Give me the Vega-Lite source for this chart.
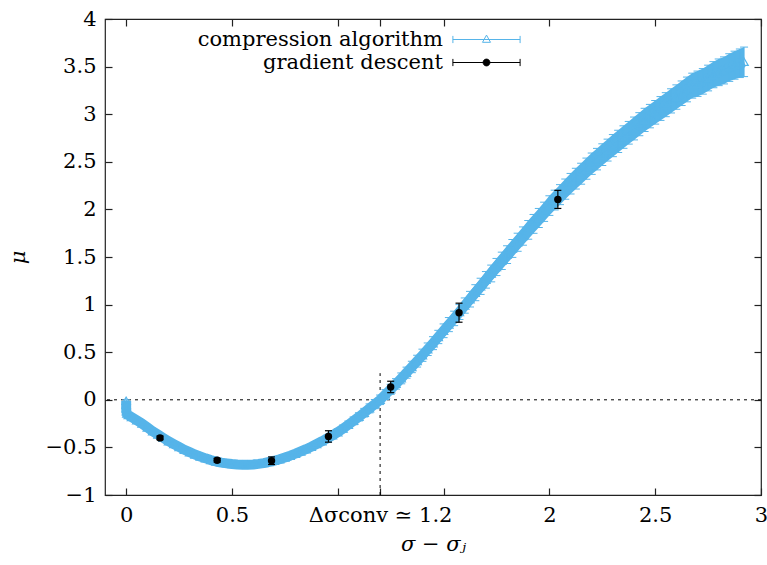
{
  "$schema": "https://vega.github.io/schema/vega-lite/v6.json",
  "width": 656,
  "height": 476,
  "autosize": {"type": "none"},
  "padding": {"left": 105, "top": 19, "right": 6, "bottom": 70},
  "background": "white",
  "config": {
    "view": {"stroke": "#222", "strokeWidth": 1.2},
    "font": "DejaVu Serif",
    "axis": {
      "grid": false, "domain": false, "tickColor": "#222", "tickWidth": 1.2,
      "tickSize": -7, "labelFont": "DejaVu Serif", "labelFontSize": 21,
      "labelColor": "black", "titleFont": "DejaVu Serif", "titleFontSize": 21,
      "titleFontWeight": "normal", "titleFontStyle": "italic", "titleColor": "black",
      "labelOverlap": false, "labelFlush": false
    },
    "legend": {
      "orient": "none", "legendX": 371, "legendY": 10, "title": null, "padding": 0,
      "rowPadding": 1, "labelAlign": "right", "labelOffset": -54,
      "labelFont": "DejaVu Serif", "labelFontSize": 21, "labelColor": "black",
      "symbolSize": 64, "symbolStrokeWidth": 1, "symbolOpacity": 1, "labelLimit": 400
    }
  },
  "datasets": {
    "compression": [
      {"x": 0, "y": -0.01, "lo": -0.02, "hi": 0.0},
      {"x": 0, "y": -0.05, "lo": -0.06, "hi": -0.04},
      {"x": 0, "y": -0.09, "lo": -0.1, "hi": -0.08},
      {"x": 0.001, "y": -0.12, "lo": -0.13, "hi": -0.11},
      {"x": 0.003, "y": -0.145, "lo": -0.155, "hi": -0.135},
      {"x": 0.01, "y": -0.16, "lo": -0.17, "hi": -0.15},
      {"x": 0.025, "y": -0.18, "lo": -0.19, "hi": -0.17},
      {"x": 0.05, "y": -0.215, "lo": -0.225, "hi": -0.205},
      {"x": 0.075, "y": -0.25, "lo": -0.26, "hi": -0.24},
      {"x": 0.1, "y": -0.29, "lo": -0.3, "hi": -0.28},
      {"x": 0.125, "y": -0.33, "lo": -0.34, "hi": -0.32},
      {"x": 0.15, "y": -0.365, "lo": -0.375, "hi": -0.355},
      {"x": 0.175, "y": -0.4, "lo": -0.41, "hi": -0.39},
      {"x": 0.2, "y": -0.435, "lo": -0.445, "hi": -0.425},
      {"x": 0.225, "y": -0.465, "lo": -0.475, "hi": -0.455},
      {"x": 0.25, "y": -0.495, "lo": -0.505, "hi": -0.485},
      {"x": 0.275, "y": -0.525, "lo": -0.535, "hi": -0.515},
      {"x": 0.3, "y": -0.55, "lo": -0.56, "hi": -0.54},
      {"x": 0.325, "y": -0.575, "lo": -0.585, "hi": -0.565},
      {"x": 0.35, "y": -0.595, "lo": -0.605, "hi": -0.585},
      {"x": 0.375, "y": -0.615, "lo": -0.625, "hi": -0.605},
      {"x": 0.4, "y": -0.633, "lo": -0.643, "hi": -0.623},
      {"x": 0.425, "y": -0.648, "lo": -0.658, "hi": -0.638},
      {"x": 0.45, "y": -0.66, "lo": -0.67, "hi": -0.65},
      {"x": 0.475, "y": -0.668, "lo": -0.678, "hi": -0.658},
      {"x": 0.5, "y": -0.675, "lo": -0.685, "hi": -0.665},
      {"x": 0.525, "y": -0.679, "lo": -0.689, "hi": -0.669},
      {"x": 0.55, "y": -0.681, "lo": -0.691, "hi": -0.671},
      {"x": 0.575, "y": -0.681, "lo": -0.691, "hi": -0.671},
      {"x": 0.6, "y": -0.679, "lo": -0.691, "hi": -0.667},
      {"x": 0.625, "y": -0.673, "lo": -0.685, "hi": -0.661},
      {"x": 0.65, "y": -0.665, "lo": -0.678, "hi": -0.652},
      {"x": 0.675, "y": -0.653, "lo": -0.667, "hi": -0.639},
      {"x": 0.7, "y": -0.64, "lo": -0.655, "hi": -0.625},
      {"x": 0.725, "y": -0.624, "lo": -0.64, "hi": -0.608},
      {"x": 0.75, "y": -0.606, "lo": -0.623, "hi": -0.589},
      {"x": 0.775, "y": -0.587, "lo": -0.606, "hi": -0.568},
      {"x": 0.8, "y": -0.566, "lo": -0.586, "hi": -0.546},
      {"x": 0.825, "y": -0.543, "lo": -0.565, "hi": -0.521},
      {"x": 0.85, "y": -0.519, "lo": -0.543, "hi": -0.495},
      {"x": 0.875, "y": -0.493, "lo": -0.519, "hi": -0.467},
      {"x": 0.9, "y": -0.465, "lo": -0.493, "hi": -0.437},
      {"x": 0.925, "y": -0.436, "lo": -0.466, "hi": -0.406},
      {"x": 0.95, "y": -0.405, "lo": -0.437, "hi": -0.373},
      {"x": 0.975, "y": -0.373, "lo": -0.407, "hi": -0.339},
      {"x": 1.0, "y": -0.34, "lo": -0.375, "hi": -0.305},
      {"x": 1.025, "y": -0.302, "lo": -0.339, "hi": -0.265},
      {"x": 1.05, "y": -0.262, "lo": -0.301, "hi": -0.223},
      {"x": 1.075, "y": -0.221, "lo": -0.262, "hi": -0.18},
      {"x": 1.1, "y": -0.179, "lo": -0.222, "hi": -0.136},
      {"x": 1.125, "y": -0.135, "lo": -0.18, "hi": -0.09},
      {"x": 1.15, "y": -0.09, "lo": -0.137, "hi": -0.043},
      {"x": 1.175, "y": -0.045, "lo": -0.093, "hi": 0.003},
      {"x": 1.2, "y": 0.0, "lo": -0.05, "hi": 0.05},
      {"x": 1.225, "y": 0.055, "lo": 0.003, "hi": 0.107},
      {"x": 1.25, "y": 0.11, "lo": 0.057, "hi": 0.163},
      {"x": 1.275, "y": 0.167, "lo": 0.112, "hi": 0.222},
      {"x": 1.3, "y": 0.225, "lo": 0.168, "hi": 0.282},
      {"x": 1.325, "y": 0.285, "lo": 0.227, "hi": 0.343},
      {"x": 1.35, "y": 0.345, "lo": 0.285, "hi": 0.405},
      {"x": 1.375, "y": 0.406, "lo": 0.344, "hi": 0.468},
      {"x": 1.4, "y": 0.468, "lo": 0.404, "hi": 0.532},
      {"x": 1.425, "y": 0.531, "lo": 0.465, "hi": 0.597},
      {"x": 1.45, "y": 0.595, "lo": 0.527, "hi": 0.663},
      {"x": 1.475, "y": 0.66, "lo": 0.59, "hi": 0.73},
      {"x": 1.5, "y": 0.725, "lo": 0.653, "hi": 0.797},
      {"x": 1.525, "y": 0.79, "lo": 0.716, "hi": 0.864},
      {"x": 1.55, "y": 0.855, "lo": 0.779, "hi": 0.931},
      {"x": 1.575, "y": 0.922, "lo": 0.844, "hi": 1.0},
      {"x": 1.6, "y": 0.99, "lo": 0.91, "hi": 1.07},
      {"x": 1.625, "y": 1.057, "lo": 0.975, "hi": 1.139},
      {"x": 1.65, "y": 1.125, "lo": 1.041, "hi": 1.209},
      {"x": 1.675, "y": 1.192, "lo": 1.107, "hi": 1.277},
      {"x": 1.7, "y": 1.26, "lo": 1.173, "hi": 1.347},
      {"x": 1.725, "y": 1.327, "lo": 1.239, "hi": 1.415},
      {"x": 1.75, "y": 1.395, "lo": 1.305, "hi": 1.485},
      {"x": 1.775, "y": 1.46, "lo": 1.369, "hi": 1.551},
      {"x": 1.8, "y": 1.525, "lo": 1.432, "hi": 1.618},
      {"x": 1.825, "y": 1.59, "lo": 1.496, "hi": 1.684},
      {"x": 1.85, "y": 1.655, "lo": 1.56, "hi": 1.75},
      {"x": 1.875, "y": 1.72, "lo": 1.624, "hi": 1.816},
      {"x": 1.9, "y": 1.785, "lo": 1.687, "hi": 1.883},
      {"x": 1.925, "y": 1.848, "lo": 1.749, "hi": 1.947},
      {"x": 1.95, "y": 1.91, "lo": 1.81, "hi": 2.01},
      {"x": 1.975, "y": 1.975, "lo": 1.874, "hi": 2.076},
      {"x": 2.0, "y": 2.04, "lo": 1.937, "hi": 2.143},
      {"x": 2.025, "y": 2.098, "lo": 1.994, "hi": 2.202},
      {"x": 2.05, "y": 2.155, "lo": 2.05, "hi": 2.26},
      {"x": 2.075, "y": 2.213, "lo": 2.107, "hi": 2.319},
      {"x": 2.1, "y": 2.27, "lo": 2.162, "hi": 2.378},
      {"x": 2.125, "y": 2.323, "lo": 2.214, "hi": 2.432},
      {"x": 2.15, "y": 2.375, "lo": 2.265, "hi": 2.485},
      {"x": 2.175, "y": 2.428, "lo": 2.317, "hi": 2.539},
      {"x": 2.2, "y": 2.48, "lo": 2.368, "hi": 2.592},
      {"x": 2.225, "y": 2.528, "lo": 2.415, "hi": 2.641},
      {"x": 2.25, "y": 2.575, "lo": 2.461, "hi": 2.689},
      {"x": 2.275, "y": 2.623, "lo": 2.508, "hi": 2.738},
      {"x": 2.3, "y": 2.67, "lo": 2.554, "hi": 2.786},
      {"x": 2.325, "y": 2.715, "lo": 2.598, "hi": 2.832},
      {"x": 2.35, "y": 2.76, "lo": 2.642, "hi": 2.878},
      {"x": 2.375, "y": 2.805, "lo": 2.686, "hi": 2.924},
      {"x": 2.4, "y": 2.85, "lo": 2.73, "hi": 2.97},
      {"x": 2.425, "y": 2.895, "lo": 2.774, "hi": 3.016},
      {"x": 2.45, "y": 2.94, "lo": 2.818, "hi": 3.062},
      {"x": 2.475, "y": 2.98, "lo": 2.857, "hi": 3.103},
      {"x": 2.5, "y": 3.02, "lo": 2.896, "hi": 3.144},
      {"x": 2.525, "y": 3.06, "lo": 2.935, "hi": 3.185},
      {"x": 2.55, "y": 3.1, "lo": 2.974, "hi": 3.226},
      {"x": 2.575, "y": 3.14, "lo": 3.013, "hi": 3.267},
      {"x": 2.6, "y": 3.18, "lo": 3.052, "hi": 3.308},
      {"x": 2.625, "y": 3.22, "lo": 3.091, "hi": 3.349},
      {"x": 2.65, "y": 3.26, "lo": 3.13, "hi": 3.39},
      {"x": 2.675, "y": 3.3, "lo": 3.169, "hi": 3.431},
      {"x": 2.7, "y": 3.32, "lo": 3.187, "hi": 3.453},
      {"x": 2.725, "y": 3.345, "lo": 3.211, "hi": 3.479},
      {"x": 2.75, "y": 3.38, "lo": 3.245, "hi": 3.515},
      {"x": 2.775, "y": 3.415, "lo": 3.278, "hi": 3.552},
      {"x": 2.8, "y": 3.44, "lo": 3.3, "hi": 3.58},
      {"x": 2.825, "y": 3.46, "lo": 3.318, "hi": 3.602},
      {"x": 2.85, "y": 3.49, "lo": 3.345, "hi": 3.635},
      {"x": 2.875, "y": 3.515, "lo": 3.368, "hi": 3.662},
      {"x": 2.9, "y": 3.535, "lo": 3.385, "hi": 3.685},
      {"x": 2.92, "y": 3.55, "lo": 3.395, "hi": 3.705}
    ],
    "gradient": [
      {"x": 0.16, "y": -0.4, "lo": -0.42, "hi": -0.38},
      {"x": 0.43, "y": -0.635, "lo": -0.655, "hi": -0.615},
      {"x": 0.687, "y": -0.64, "lo": -0.68, "hi": -0.6},
      {"x": 0.956, "y": -0.385, "lo": -0.445, "hi": -0.325},
      {"x": 1.25, "y": 0.135, "lo": 0.075, "hi": 0.195},
      {"x": 1.573, "y": 0.915, "lo": 0.815, "hi": 1.015},
      {"x": 2.04, "y": 2.105, "lo": 2.01, "hi": 2.2}
    ],
    "hline": [{"y": 0}],
    "vline": [{"x": 1.2, "y": -1, "y2": 0.28}],
    "series": [
      {"series": "compression algorithm"},
      {"series": "gradient descent"}
    ]
  },
  "resolve": {"axis": {"x": "independent", "y": "independent"}},
  "layer": [
    {
      "data": {"name": "hline"},
      "mark": {"type": "rule", "color": "black", "strokeWidth": 1, "strokeDash": [3, 4]},
      "encoding": {
        "y": {"field": "y", "type": "quantitative", "axis": null}
      }
    },
    {
      "data": {"name": "vline"},
      "mark": {"type": "rule", "color": "black", "strokeWidth": 1, "strokeDash": [3, 4]},
      "encoding": {
        "x": {"field": "x", "type": "quantitative",
              "axis": {"orient": "top", "values": [0, 0.5, 1, 1.2, 1.5, 2, 2.5, 3], "labels": false, "title": null}},
        "y": {"field": "y", "type": "quantitative",
              "axis": {"orient": "right", "values": [-1, -0.5, 0, 0.5, 1, 1.5, 2, 2.5, 3, 3.5, 4], "labels": false, "title": null}},
        "y2": {"field": "y2"}
      }
    },
    {
      "data": {"name": "compression"},
      "mark": {"type": "area", "color": "#56b4e9", "opacity": 1},
      "encoding": {
        "x": {"field": "x", "type": "quantitative", "axis": null},
        "y": {"field": "lo", "type": "quantitative", "axis": null},
        "y2": {"field": "hi"}
      }
    },
    {
      "data": {"name": "compression"},
      "mark": {"type": "line", "color": "#56b4e9", "strokeWidth": 10, "strokeJoin": "round", "strokeCap": "butt"},
      "encoding": {
        "x": {"field": "x", "type": "quantitative",
              "scale": {"domain": [-0.1, 3], "nice": false, "zero": false},
              "axis": {"orient": "bottom", "values": [0, 0.5, 1, 1.2, 1.5, 2, 2.5, 3], "format": "~g",
                       "labelPadding": 16, "titlePadding": 8,
                       "labelExpr": "datum.value == 1.2 ? 'Δσconv ≃ 1.2' : ((datum.value == 1 || datum.value == 1.5) ? '' : datum.label)",
                       "title": "σ − σⱼ"}},
        "y": {"field": "y", "type": "quantitative",
              "scale": {"domain": [-1, 4], "nice": false, "zero": false},
              "axis": {"orient": "left", "values": [-1, -0.5, 0, 0.5, 1, 1.5, 2, 2.5, 3, 3.5, 4], "format": "~g",
                       "labelPadding": 16, "titlePadding": 17, "title": "μ"}}
      }
    },
    {
      "data": {"name": "compression"},
      "mark": {"type": "rule", "color": "#56b4e9", "strokeWidth": 1},
      "encoding": {
        "x": {"field": "x", "type": "quantitative", "axis": null},
        "y": {"field": "lo", "type": "quantitative", "axis": null},
        "y2": {"field": "hi"}
      }
    },
    {
      "data": {"name": "compression"},
      "mark": {"type": "tick", "color": "#56b4e9", "orient": "horizontal", "size": 8, "thickness": 1, "opacity": 1},
      "encoding": {
        "x": {"field": "x", "type": "quantitative", "axis": null},
        "y": {"field": "lo", "type": "quantitative", "axis": null}
      }
    },
    {
      "data": {"name": "compression"},
      "mark": {"type": "tick", "color": "#56b4e9", "orient": "horizontal", "size": 8, "thickness": 1, "opacity": 1},
      "encoding": {
        "x": {"field": "x", "type": "quantitative", "axis": null},
        "y": {"field": "hi", "type": "quantitative", "axis": null}
      }
    },
    {
      "data": {"name": "compression"},
      "mark": {"type": "point", "shape": "triangle-up", "filled": false, "color": "#56b4e9", "size": 70, "strokeWidth": 1.2, "opacity": 1},
      "encoding": {
        "x": {"field": "x", "type": "quantitative", "axis": null},
        "y": {"field": "y", "type": "quantitative", "axis": null}
      }
    },
    {
      "data": {"name": "gradient"},
      "mark": {"type": "rule", "color": "black", "strokeWidth": 1.2},
      "encoding": {
        "x": {"field": "x", "type": "quantitative", "axis": null},
        "y": {"field": "lo", "type": "quantitative", "axis": null},
        "y2": {"field": "hi"}
      }
    },
    {
      "data": {"name": "gradient"},
      "mark": {"type": "tick", "color": "black", "orient": "horizontal", "size": 7, "thickness": 1.2, "opacity": 1},
      "encoding": {
        "x": {"field": "x", "type": "quantitative", "axis": null},
        "y": {"field": "lo", "type": "quantitative", "axis": null}
      }
    },
    {
      "data": {"name": "gradient"},
      "mark": {"type": "tick", "color": "black", "orient": "horizontal", "size": 7, "thickness": 1.2, "opacity": 1},
      "encoding": {
        "x": {"field": "x", "type": "quantitative", "axis": null},
        "y": {"field": "hi", "type": "quantitative", "axis": null}
      }
    },
    {
      "data": {"name": "gradient"},
      "mark": {"type": "point", "shape": "circle", "filled": true, "color": "black", "size": 55, "opacity": 1},
      "encoding": {
        "x": {"field": "x", "type": "quantitative", "axis": null},
        "y": {"field": "y", "type": "quantitative", "axis": null}
      }
    },
    {
      "data": {"name": "series"},
      "transform": [{"filter": "datum.series == 'none'"}],
      "mark": {"type": "point", "opacity": 1},
      "encoding": {
        "shape": {"field": "series", "type": "nominal",
                  "scale": {"domain": ["compression algorithm", "gradient descent"],
                            "range": ["M-8.4,0H8.4M-8.4,-0.9V0.9M8.4,-0.9V0.9M0,-1.1L1,0.7H-1Z",
                                      "M-8.4,0H8.4M-8.4,-0.9V0.9M8.4,-0.9V0.9M0.85,0A0.85,0.85,0,1,1,-0.85,0A0.85,0.85,0,1,1,0.85,0Z"]}},
        "fill": {"field": "series", "type": "nominal",
                 "scale": {"domain": ["compression algorithm", "gradient descent"], "range": ["#ffffff", "#000000"]}},
        "stroke": {"field": "series", "type": "nominal",
                   "scale": {"domain": ["compression algorithm", "gradient descent"], "range": ["#56b4e9", "#000000"]}}
      }
    }
  ]
}
